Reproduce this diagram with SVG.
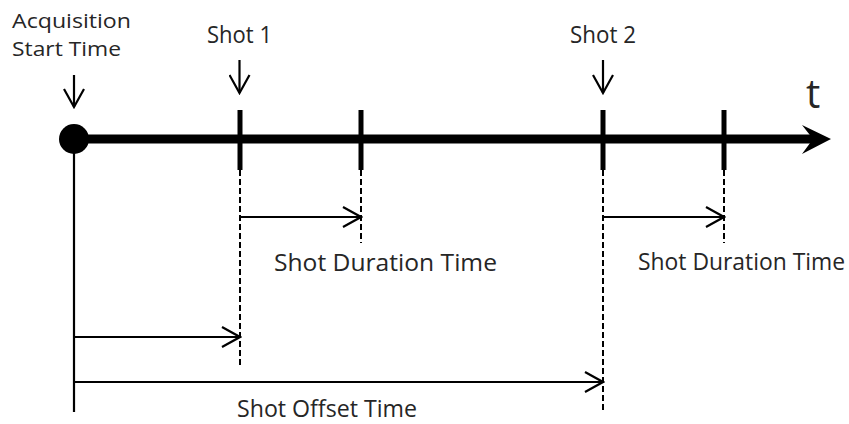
<svg xmlns="http://www.w3.org/2000/svg" width="849" height="424" viewBox="0 0 849 424">
  <style>
    .lbl { font-family: "Open Sans", "Liberation Sans", Arial, sans-serif; font-size: 23px; fill: #262626; }
    .lbl2 { font-family: "Open Sans", "Liberation Sans", Arial, sans-serif; font-size: 20px; fill: #262626; }
    .thin { stroke: #000; stroke-width: 2.2; fill: none; }
    .arr { stroke: #000; stroke-width: 2.2; fill: none; marker-end: url(#open); }
    .dash { stroke: #000; stroke-width: 2; fill: none; stroke-dasharray: 6 3; }
    .tick { stroke: #000; stroke-width: 5; }
  </style>
  <defs>
    <marker id="open" markerUnits="userSpaceOnUse" viewBox="0 0 22 22" refX="20" refY="11" markerWidth="22" markerHeight="22" orient="auto">
      <path d="M2,1 L20,11 L2,21" stroke="#000" stroke-width="2.2" fill="none"/>
    </marker>
  </defs>
  <rect width="849" height="424" fill="#fff"/>

  <g id="timeline">
    <line x1="74" y1="139" x2="815" y2="139" stroke="#000" stroke-width="9"/>
    <path d="M831,139 L802,125 L813,139 L802,154 Z" fill="#000"/>
    <circle cx="74" cy="139" r="15" fill="#000"/>
    <text x="806" y="108" font-family="Open Sans, Liberation Sans, Arial, sans-serif" font-size="40" fill="#262626">t</text>
  </g>

  <g id="acquisition-start">
    <text class="lbl2" x="12" y="28" textLength="119" lengthAdjust="spacingAndGlyphs">Acquisition</text>
    <text class="lbl2" x="12" y="56" textLength="109" lengthAdjust="spacingAndGlyphs">Start Time</text>
  </g>
  <g id="shot1">
    <text class="lbl" x="207" y="43" textLength="65" lengthAdjust="spacingAndGlyphs">Shot 1</text>
    <line class="tick" x1="240" y1="110" x2="240" y2="170"/>
  </g>
  <g id="shot1-end">
    <line class="tick" x1="361" y1="110" x2="361" y2="170"/>
  </g>
  <g id="shot2">
    <text class="lbl" x="570" y="43" textLength="66" lengthAdjust="spacingAndGlyphs">Shot 2</text>
    <line class="tick" x1="603" y1="110" x2="603" y2="170"/>
  </g>
  <g id="shot2-end">
    <line class="tick" x1="724" y1="110" x2="724" y2="170"/>
  </g>
  <g id="labels">
    <text class="lbl" x="274" y="271" textLength="223" lengthAdjust="spacingAndGlyphs">Shot Duration Time</text>
    <text class="lbl" x="638" y="270" textLength="207" lengthAdjust="spacingAndGlyphs">Shot Duration Time</text>
    <text class="lbl" x="237" y="417" textLength="180" lengthAdjust="spacingAndGlyphs">Shot Offset Time</text>
  </g>

  <g id="connectors">
    <line class="thin" x1="74" y1="139" x2="74" y2="412"/>
    <line class="dash" x1="240" y1="170" x2="240" y2="368"/>
    <line class="dash" x1="361" y1="170" x2="361" y2="243"/>
    <line class="dash" x1="603" y1="170" x2="603" y2="412"/>
    <line class="dash" x1="724" y1="170" x2="724" y2="243"/>
    <line class="arr" x1="74" y1="75" x2="74" y2="107"/>
    <line class="arr" x1="239.5" y1="60" x2="239.5" y2="93"/>
    <line class="arr" x1="603" y1="60" x2="603" y2="93"/>
    <line class="arr" x1="240" y1="217" x2="361" y2="217"/>
    <line class="arr" x1="603" y1="217" x2="724" y2="217"/>
    <line class="arr" x1="74" y1="337" x2="240" y2="337"/>
    <line class="arr" x1="74" y1="382" x2="603" y2="382"/>
  </g>
</svg>
